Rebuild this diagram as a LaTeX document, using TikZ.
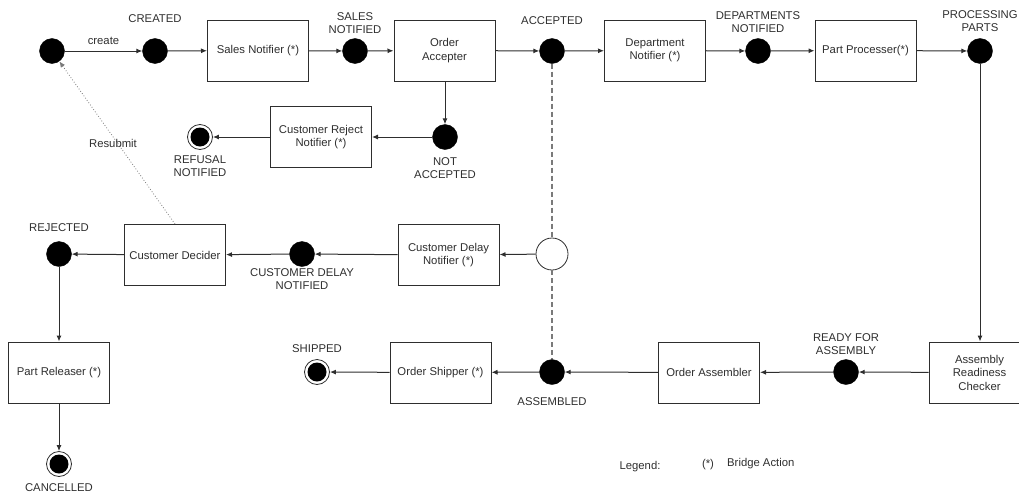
\documentclass[tikz,border=0pt]{standalone}
\usepackage{fontspec}
\setmainfont{Liberation Sans}
\usetikzlibrary{arrows.meta}
\definecolor{ink}{HTML}{2E2E2E}
\definecolor{dashgray}{HTML}{7A7A7A}
\begin{document}
\begin{tikzpicture}[x=1pt,y=-1pt,
  every node/.style={font=\fontsize{11.3}{13.5}\selectfont, text=ink},
  action/.style={draw=ink, line width=1pt, fill=white, rectangle,
    minimum width=101pt, minimum height=61pt, align=center, inner sep=2pt},
  statedot/.style={circle, fill=black, draw=black, minimum size=25pt, inner sep=0pt},
  finalstate/.style={circle, draw=ink, line width=0.8pt, fill=white, minimum size=25pt, inner sep=0pt,
    path picture={\fill[black] (path picture bounding box.center) circle (9.5pt);}},
  junction/.style={circle, draw=ink, line width=0.8pt, fill=white, minimum size=32pt, inner sep=0pt},
  lbl/.style={align=center, inner sep=0pt},
  flow/.style={draw=ink, line width=1pt, -{Latex[length=6pt,width=5pt]}},
  sync/.style={draw=dashgray, line width=1.2pt, dash pattern=on 5pt off 3pt},
  resubmit/.style={draw=dashgray, line width=0.8pt, dotted, -{Latex[length=6pt,width=5pt]}}]

\useasboundingbox (0,0) rectangle (1019,498);
\clip (0,0) rectangle (1019,498);

% top row
\node[statedot] (init) at (52,51) {};
\node[statedot] (created) at (155,51) {};
\node[action] (sales) at (258,50.5) {Sales Notifier (*)};
\node[statedot] (salesn) at (355,51) {};
\node[action] (accepter) at (444.5,50.5) {Order\\Accepter};
\node[statedot] (accepted) at (552,51) {};
\node[action] (dept) at (655,50.5) {Department\\Notifier (*)};
\node[statedot] (deptn) at (758,51) {};
\node[action] (parts) at (865.5,50.5) {Part Processer(*)};
\node[statedot] (procp) at (980,51) {};

% rejection branch
\node[statedot] (notacc) at (445,137) {};
\node[action] (reject) at (321,137) {Customer Reject\\Notifier (*)};
\node[finalstate] (refusal) at (200,137) {};

% delay branch
\node[junction] (join) at (552,254) {};
\node[action] (delay) at (448.5,255) {Customer Delay\\Notifier (*)};
\node[statedot] (delayn) at (302,254) {};
\node[action] (decider) at (175,255) {Customer Decider};
\node[statedot] (rejected) at (59,254) {};
\node[action] (releaser) at (59,372.5) {Part Releaser (*)};
\node[finalstate] (cancelled) at (59,464) {};

% assembly row
\node[action] (checker) at (979.5,372.5) {Assembly\\Readiness\\Checker};
\node[statedot] (ready) at (846,372) {};
\node[action] (assembler) at (709,372.5) {Order Assembler};
\node[statedot] (assembled) at (552,372) {};
\node[action] (shipper) at (440.5,372.5) {Order Shipper (*)};
\node[finalstate] (shipped) at (317,372) {};

% state labels
\node[lbl] (l-created) at (155,19) {CREATED};
\node[lbl] (l-salesn) at (355,23) {SALES\\NOTIFIED};
\node[lbl] (l-accepted) at (552,21) {ACCEPTED};
\node[lbl] (l-deptn) at (758,22) {DEPARTMENTS\\NOTIFIED};
\node[lbl] (l-procp) at (980,21) {PROCESSING\\PARTS};
\node[lbl] (l-notacc) at (445,168) {NOT\\ACCEPTED};
\node[lbl] (l-refusal) at (200,166) {REFUSAL\\NOTIFIED};
\node[lbl] (l-rejected) at (59,228) {REJECTED};
\node[lbl] (l-delayn) at (302,279) {CUSTOMER DELAY\\NOTIFIED};
\node[lbl] (l-shipped) at (317,349) {SHIPPED};
\node[lbl] (l-assembled) at (552,402) {ASSEMBLED};
\node[lbl] (l-ready) at (846,344) {READY FOR\\ASSEMBLY};
\node[lbl] (l-cancelled) at (59,488) {CANCELLED};

% legend
\node[lbl] (legend) at (640,467) {Legend:};
\node[lbl] (legend-mark) at (708,465) {(*)};
\node[lbl, anchor=west] (legend-text) at (727,464) {Bridge Action};

% synchronisation line
\draw[sync] (accepted) -- (join);
\draw[sync] (join) -- (assembled);

% transitions
\draw[flow] (init) -- node[lbl, above=6pt] (l-create) {create} (created);
\draw[flow] (created) -- (sales);
\draw[flow] (sales) -- (salesn);
\draw[flow] (salesn) -- (accepter);
\draw[flow] (accepter) -- (accepted);
\draw[flow] (accepted) -- (dept);
\draw[flow] (dept) -- (deptn);
\draw[flow] (deptn) -- (parts);
\draw[flow] (parts) -- (procp);
\draw[flow] (procp) -- (procp |- checker.north);
\draw[flow] (accepter.south -| notacc) -- (notacc);
\draw[flow] (notacc) -- (reject);
\draw[flow] (reject) -- (refusal);
\draw[flow] (join) -- (delay);
\draw[flow] (delay) -- (delayn);
\draw[flow] (delayn) -- (decider);
\draw[flow] (decider) -- (rejected);
\draw[flow] (rejected) -- (releaser);
\draw[flow] (releaser) -- (cancelled);
\draw[flow] (checker) -- (ready);
\draw[flow] (ready) -- (assembler);
\draw[flow] (assembler) -- (assembled);
\draw[flow] (assembled) -- (shipper);
\draw[flow] (shipper) -- (shipped);
\draw[resubmit] (decider.north) -- (init);
\node[lbl] (l-resubmit) at (113,143) {Resubmit};

\end{tikzpicture}
\end{document}
